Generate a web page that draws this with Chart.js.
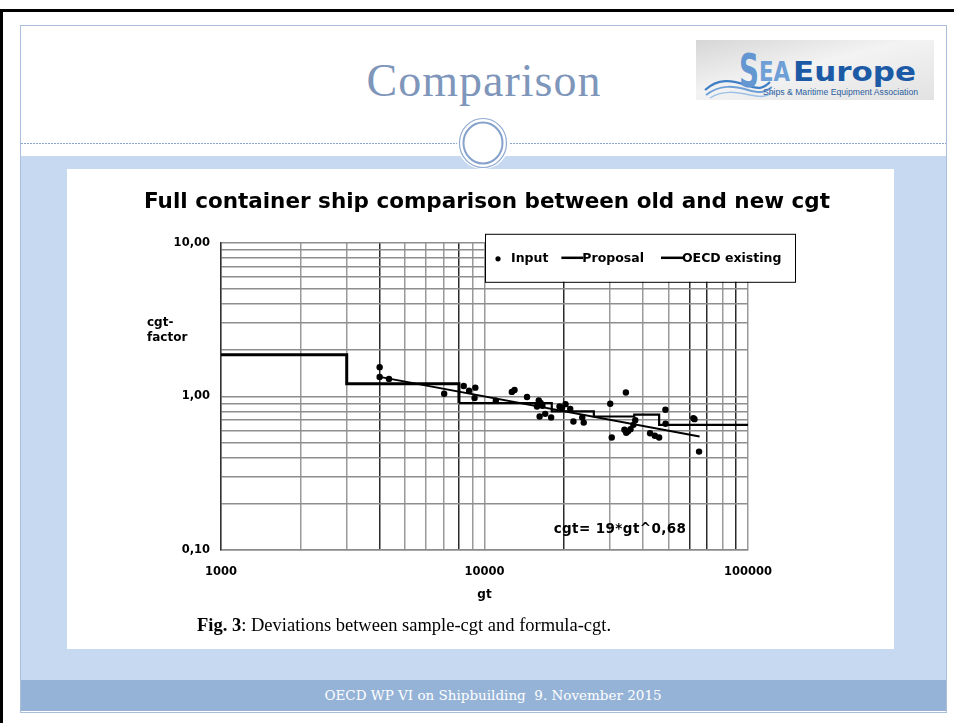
<!DOCTYPE html>
<html>
<head>
<meta charset="utf-8">
<title>Comparison</title>
<script src="https://cdn.jsdelivr.net/npm/chart.js@4.4.1/dist/chart.umd.min.js"></script>
<style>
  html,body{margin:0;padding:0;background:#fff;}
  body{width:954px;height:723px;position:relative;overflow:hidden;}
  .edge-top{position:absolute;left:0;top:9px;width:954px;height:3px;background:#000;}
  .edge-left{position:absolute;left:0;top:9px;width:3px;height:714px;background:#000;}
  .frame{position:absolute;left:20px;top:25px;width:925px;height:686px;border:1px solid #a9bfdc;}
  .title{position:absolute;left:0;top:54px;width:968px;text-align:center;
         font:46px "Liberation Serif",serif;letter-spacing:1px;color:#7f96bb;}
  .logo{position:absolute;left:696px;top:40px;}
  .band{position:absolute;left:21px;top:156px;width:925px;height:524px;background:#c6d9f1;}
  .deco{position:absolute;left:0;top:0;}
  .box{position:absolute;left:67px;top:169px;width:827px;height:480px;background:#fff;}
  .box canvas{position:absolute;left:0;top:0;}
  .caption{position:absolute;left:130px;top:446px;font:18.5px "Liberation Serif",serif;color:#000;white-space:nowrap;}
  .footer{position:absolute;left:21px;top:680px;width:925px;height:31px;background:#95b3d7;
          color:#fff;font:13.5px "DejaVu Serif",serif;text-align:center;line-height:31px;padding-left:19px;box-sizing:border-box;}
</style>
</head>
<body>
<div class="edge-top"></div>
<div class="edge-left"></div>
<div class="frame"></div>
<div class="band"></div>
<svg class="deco" width="954" height="200">
  <line x1="21" y1="143.5" x2="946" y2="143.5" stroke="#8aa4cc" stroke-width="1" stroke-dasharray="2 1"/>
  <ellipse cx="483" cy="143" rx="26" ry="26" fill="#fff"/>
  <ellipse cx="483" cy="143" rx="23.5" ry="24.5" fill="none" stroke="#8faad0" stroke-width="1.2"/>
  <ellipse cx="483" cy="143" rx="19.5" ry="20.5" fill="none" stroke="#86a2cc" stroke-width="2"/>
</svg>
<div class="title">Comparison</div>
<svg class="logo" width="238" height="60" viewBox="0 0 238 60">
  <defs>
    <linearGradient id="lg" x1="0" y1="0" x2="1" y2="1">
      <stop offset="0" stop-color="#d6d6d6"/>
      <stop offset="0.45" stop-color="#f3f3f3"/>
      <stop offset="1" stop-color="#e2e2e2"/>
    </linearGradient>
  </defs>
  <rect width="238" height="60" fill="url(#lg)"/>
  <path d="M9,50 C22,38 36,40 50,45 S68,48 74,42" fill="none" stroke="#3f7fc6" stroke-width="2.2"/>
  <path d="M10,55 C24,44 38,46 52,50 S68,52 76,47" fill="none" stroke="#6fa1d9" stroke-width="2"/>
  <path d="M14,58 C26,50 40,52 54,55 S70,56 78,52" fill="none" stroke="#9cc0e6" stroke-width="1.5"/>
  <text x="43" y="47" font-family="DejaVu Sans" font-weight="bold" font-size="46" fill="#6496d1" textLength="20" lengthAdjust="spacingAndGlyphs">S</text>
  <text x="63" y="41" font-family="DejaVu Sans" font-weight="bold" font-size="27" fill="#6e9fd6" textLength="31" lengthAdjust="spacingAndGlyphs">EA</text>
  <text x="97" y="41" font-family="DejaVu Sans" font-weight="bold" font-size="27" fill="#1c5aa6" textLength="123" lengthAdjust="spacingAndGlyphs">Europe</text>
  <text x="67" y="55" font-family="Liberation Sans" font-size="8.5" fill="#2a5d9c" textLength="155" lengthAdjust="spacingAndGlyphs">Ships &amp; Maritime Equipment Association</text>
</svg>
<div class="box">
  <canvas id="chart" width="827" height="480"></canvas>
  <div class="caption"><b>Fig. 3</b>: Deviations between sample-cgt and formula-cgt.</div>
</div>
<div class="footer">OECD WP VI on Shipbuilding&nbsp; 9. November 2015</div>

<script>
/* ---------- data ---------- */
const inputGt = [4000, 4000, 4340, 7030, 8340, 8740, 9230, 9170, 11040, 12700, 13000, 14500,
  16070, 16330, 15820, 16590, 16190, 17000, 17900, 19260, 19690, 20300, 21150, 21750,
  23500, 23800, 30000, 30400, 34400, 33970, 34500, 35060, 35820, 36730, 37330,
  42500, 44300, 46000, 48600, 48650, 62050, 62650, 65200];
const inputFactor = [1.55, 1.34, 1.30, 1.04, 1.17, 1.09, 1.14, 0.975, 0.937, 1.07, 1.10, 0.99,
  0.94, 0.905, 0.86, 0.87, 0.74, 0.77, 0.73, 0.86, 0.84, 0.89, 0.83, 0.687,
  0.73, 0.675, 0.895, 0.54, 1.06, 0.606, 0.58, 0.592, 0.612, 0.653, 0.70,
  0.575, 0.555, 0.54, 0.818, 0.663, 0.722, 0.711, 0.437];

const proposalGt = [4000, 65500];
const proposalFactor = [1.34, 0.548];

// band starts of the existing OECD factors, last value repeated at the end
const oecdGt = [1000, 3000, 8000, 18000, 26000, 37000, 46000, 100000];
const oecdFactor = [1.87, 1.21, 0.905, 0.80, 0.74, 0.76, 0.653, 0.653];

const xGridValues = [1000,2000,3000,4000,5000,6000,7000,8000,9000,
  10000,20000,30000,40000,50000,60000,70000,80000,90000,100000];
const yGridValues = [0.1,0.2,0.3,0.4,0.5,0.6,0.7,0.8,0.9,1,2,3,4,5,6,7,8,9,10];
const xTickLabels = {1000:"1000", 10000:"10000", 100000:"100000"};
const yTickLabels = {0.1:"0,10", 1:"1,00", 10:"10,00"};

const formulaText = "cgt= 19*gt^0,68";
const formulaAt = {gt: 18300, factor: 0.135};

/* ---------- helpers ---------- */
const pts = (xs, ys) => xs.map((x, i) => ({x, y: ys[i]}));
const FONT = '"DejaVu Sans", sans-serif';
const darkV = new Set([4000, 8000, 20000, 60000, 70000, 90000]);

/* légende + titre d'axe + formule, dessinés sur le canvas */
const extras = {
  id: "extras",
  afterDraw(chart){
    const {ctx, chartArea: a, scales} = chart;
    ctx.save();
    ctx.fillStyle = "#000";
    ctx.textBaseline = "middle";
    ctx.textAlign = "left";

    // y title, horizontal on two lines
    ctx.font = `bold 12px ${FONT}`;
    ctx.fillText("cgt-", a.left - 74, a.top + 80);
    ctx.fillText("factor", a.left - 74, a.top + 95);

    // formula
    ctx.font = `bold 13.5px ${FONT}`;
    if ("letterSpacing" in ctx) ctx.letterSpacing = "0.4px";
    ctx.fillText(formulaText, scales.x.getPixelForValue(formulaAt.gt), scales.y.getPixelForValue(formulaAt.factor));
    if ("letterSpacing" in ctx) ctx.letterSpacing = "0px";

    // legend box
    const bx = a.right - 263, by = a.top - 9, bw = 310, bh = 48;
    ctx.fillStyle = "#fff";
    ctx.fillRect(bx, by, bw, bh);
    ctx.strokeStyle = "#000";
    ctx.lineWidth = 1;
    ctx.strokeRect(bx + 0.5, by + 0.5, bw, bh);
    ctx.font = `bold 12.5px ${FONT}`;
    ctx.fillStyle = "#000";
    const cy = by + 25;
    let cx = bx + 10;
    chart.data.datasets.forEach((ds, i) => {
      if (!ds.showLine){
        ctx.beginPath();
        ctx.arc(cx + 3, cy, 2.6, 0, Math.PI * 2);
        ctx.fill();
        cx += 16;
      } else {
        ctx.beginPath();
        ctx.lineWidth = 2.5;
        ctx.moveTo(cx, cy - 1);
        ctx.lineTo(cx + 22, cy - 1);
        ctx.stroke();
        cx += 21;
      }
      ctx.fillText(ds.label, cx, cy);
      cx += ctx.measureText(ds.label).width + (i === 0 ? 13 : 17);
    });
    ctx.restore();
  }
};

/* ---------- chart ---------- */
Chart.defaults.font.family = FONT;
Chart.defaults.color = "#000";

new Chart(document.getElementById("chart"), {
  type: "scatter",
  data: {
    datasets: [
      { label: "Input", data: pts(inputGt, inputFactor), showLine: false,
        pointStyle: "circle", pointRadius: 3.2, pointBackgroundColor: "#000", pointBorderWidth: 0 },
      { label: "Proposal", data: pts(proposalGt, proposalFactor), showLine: true,
        borderColor: "#000", borderWidth: 2, pointRadius: 0 },
      { label: "OECD existing", data: pts(oecdGt, oecdFactor), showLine: true, stepped: "before",
        borderColor: "#000", borderWidth: 3, pointRadius: 0,
        segment: { borderWidth: (c) => c.p0.parsed.x >= 8000 ? 2.2 : 3 } }
    ]
  },
  options: {
    responsive: false,
    animation: false,
    layout: { padding: { left: 13, right: 0, top: 0, bottom: 0 } },
    plugins: {
      legend: { display: false },
      tooltip: { enabled: false },
      title: {
        display: true,
        text: "Full container ship comparison between old and new cgt",
        font: { size: 21.5, weight: "bold", family: FONT },
        color: "#000",
        padding: { top: 21, bottom: 27 }
      }
    },
    scales: {
      x: {
        type: "logarithmic", min: 1000, max: 100000,
        afterBuildTicks: (ax) => { ax.ticks = xGridValues.map(v => ({value: v})); },
        afterFit: (ax) => { ax.height = 99; },
        ticks: { autoSkip: false, maxRotation: 0, padding: 15,
                 font: { size: 11.5, weight: "bold" },
                 callback: (v) => xTickLabels[v] ?? "" },
        grid: { drawTicks: false, lineWidth: 1.5,
                color: (c) => darkV.has(c.tick && c.tick.value) ? "#2a2a2a" : "#9a9a9a" },
        border: { color: "#8a8a8a", width: 1.5 },
        title: { display: true, text: "gt", font: { size: 12, weight: "bold" }, padding: { bottom: 47 } }
      },
      y: {
        type: "logarithmic", min: 0.1, max: 10,
        afterBuildTicks: (ax) => { ax.ticks = yGridValues.map(v => ({value: v})); },
        afterFit: (ax) => { ax.width = 141; },
        ticks: { autoSkip: false, padding: 11,
                 font: { size: 11.5, weight: "bold" },
                 callback: (v) => yTickLabels[v] ?? "" },
        grid: { drawTicks: false, lineWidth: 1.5, color: "#8e8e8e" },
        border: { color: "#333", width: 1.5 }
      },
      // empty right-hand box that keeps the plot narrower than the canvas
      spacer: {
        type: "linear", position: "right", display: true,
        afterFit: (ax) => { ax.width = 146; },
        ticks: { display: false }, grid: { display: false }, border: { display: false }
      }
    }
  },
  plugins: [extras]
});
</script>
</body>
</html>
